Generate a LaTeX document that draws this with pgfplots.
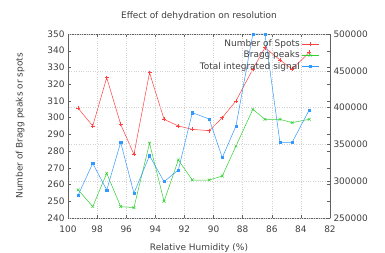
\documentclass[border=0pt]{standalone}
\usepackage{pgfplots}
\pgfplotsset{compat=1.18}
\usepackage{fontspec}
\setmainfont{DejaVu Sans}
\definecolor{txt}{HTML}{404040}
\definecolor{ax}{HTML}{606060}
\definecolor{cred}{HTML}{FF4040}
\definecolor{cgreen}{HTML}{30D030}
\definecolor{cblue}{HTML}{3399FF}
\begin{document}
\begin{tikzpicture}[font=\fontsize{9}{10}\selectfont]
\useasboundingbox (-68bp,-35bp) rectangle (317bp,218bp);
\pgfplotsset{
  common/.style={
    scale only axis, width=262bp, height=184bp,
    at={(0,0)}, anchor=south west,
    xmin=82, xmax=100, x dir=reverse,
    axis line style={ax, line width=0.5pt},
    tick style={ax, line width=0.4pt},
    tick align=inside,
    major tick length=3pt,
    ticklabel style={text=txt},
    label style={text=txt},
    /pgf/number format/assume math mode=true,
    /pgf/number format/1000 sep={},
  }
}
\begin{axis}[common,
  ymin=240, ymax=350,
  ytick={240,250,...,350},
  xtick={82,84,...,100},
  xtick pos=both, ytick pos=both,
  xmajorgrids, x grid style={dotted, gray!35, line width=0.5pt},
  xlabel={Relative Humidity (\%)},
  ylabel={Number of Bragg peaks or spots},
  title={Effect of dehydration on resolution},
  title style={text=txt, yshift=4bp},
  xticklabel style={yshift=-4bp},
  xlabel style={yshift=-4.5bp},
  ylabel style={at={(axis description cs:-0.183,0.5)}, anchor=center},
]
\addplot[cred, line width=0.5pt, mark=+, mark size=2pt] coordinates {
(99.3,305.6) (98.3,295) (97.34,323.9) (96.38,296) (95.47,278) (94.4,326.9)
(93.4,299) (92.42,295) (91.46,293) (90.3,292.2) (89.4,300) (88.46,310)
(87.3,329) (86.47,341.8) (85.44,334.5) (84.6,329) (83.43,339)
};
\addplot[cgreen, line width=0.5pt, mark=x, mark size=2pt] coordinates {
(99.3,256.8) (98.3,246.8) (97.34,266.7) (96.38,246.8) (95.47,246.2) (94.4,284.7)
(93.4,250) (92.42,274.7) (91.46,262.7) (90.3,262.7) (89.4,265.1) (88.46,283)
(87.3,305) (86.47,299) (85.44,299) (84.6,297) (83.43,299)
};
\end{axis}
\begin{axis}[common,
  ymin=250000, ymax=500000,
  ytick={250000,300000,...,500000},
  axis y line*=right, axis x line=none,
  ymajorgrids, y grid style={dotted, gray!35, line width=0.5pt},
  scaled y ticks=false,
  yticklabel style={/pgf/number format/fixed, /pgf/number format/1000 sep={}},
  legend plot pos=right,
  legend cell align=right,
  legend style={draw=none, fill=none, at={(1,1)}, anchor=north east,
    xshift=-8bp, yshift=-2bp, text=txt,
    row sep=0bp, nodes={inner sep=1.5bp}},
]
\addlegendimage{cred, line width=0.5pt, mark=+, mark size=2pt}
\addlegendentry{Number of Spots}
\addlegendimage{cgreen, line width=0.5pt, mark=x, mark size=2pt}
\addlegendentry{Bragg peaks}
\addplot[cblue, line width=0.5pt, mark=square*, mark size=1.1pt] coordinates {
(99.3,281250) (98.3,324300) (97.34,288000) (96.38,352800) (95.47,283600) (94.4,334700)
(93.4,299400) (92.42,315200) (91.46,393100) (90.3,384500) (89.4,332000) (88.46,375000)
(87.3,500000) (86.47,500000) (85.44,352800) (84.6,352800) (83.43,396700)
};
\addlegendentry{Total integrated signal}
\end{axis}
\end{tikzpicture}
\end{document}
